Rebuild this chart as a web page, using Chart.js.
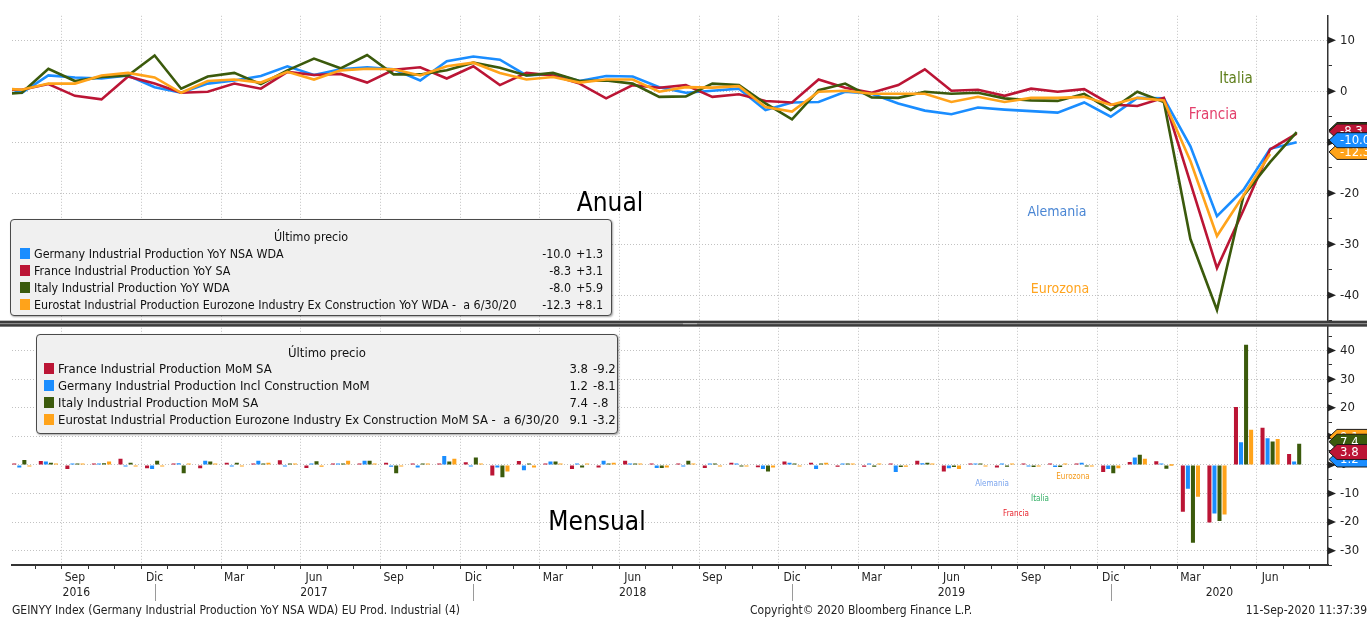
<!DOCTYPE html>
<html>
<head>
<meta charset="utf-8">
<script src="https://cdn.jsdelivr.net/npm/chart.js@4.4.0/dist/chart.umd.min.js"></script>
<style>
  body { margin: 0; background: #fff; }
  #wrap { position: relative; width: 1367px; height: 620px; overflow: hidden;
          font-family: 'DejaVu Sans Condensed', 'Liberation Sans Narrow', sans-serif; color: #111; }
  canvas { position: absolute; left: 0; top: 0; }
  .box { position: absolute; background: #f0f0f0; border: 1px solid #4a4a4a; border-radius: 4px;
         box-shadow: 1px 1px 2px rgba(0,0,0,.35); font-size: 13px; }
  .box div { position: absolute; white-space: nowrap; line-height: 17px; height: 17px; }
  .box .sw { height: 11px; width: 10px; top: 3px; }
  .lbl { position: absolute; white-space: nowrap; transform: translate(-50%, -50%); }
  .foot { position: absolute; top: 603px; font-size: 12px; white-space: nowrap; color: #222; }
</style>
</head>
<body>
<div id="wrap">
  <canvas id="c" width="1367" height="620"></canvas>
</div>
<script>
// months shown (Jun 2016 .. Jul 2020)
const months = [
  '2016-06','2016-07','2016-08','2016-09','2016-10','2016-11','2016-12',
  '2017-01','2017-02','2017-03','2017-04','2017-05','2017-06','2017-07','2017-08','2017-09','2017-10','2017-11','2017-12',
  '2018-01','2018-02','2018-03','2018-04','2018-05','2018-06','2018-07','2018-08','2018-09','2018-10','2018-11','2018-12',
  '2019-01','2019-02','2019-03','2019-04','2019-05','2019-06','2019-07','2019-08','2019-09','2019-10','2019-11','2019-12',
  '2020-01','2020-02','2020-03','2020-04','2020-05','2020-06','2020-07'
];
const quarterNames = { '03': 'Mar', '06': 'Jun', '09': 'Sep', '12': 'Dic' };
const years = ['2016', '2017', '2018', '2019', '2020'];

// YoY (top panel)
const yoyGermany = [1.5, -0.3, 3.1, 2.7, 2.5, 3.1, 0.8, -0.3, 1.5, 2.1, 3.0, 4.9, 3.2, 4.3, 4.7, 4.3, 2.1, 5.9, 6.8, 6.2, 3.1, 3.4, 2.0, 3.0, 2.9, 0.8, -0.3, 0.1, 0.5, -3.7, -2.2, -2.1, -0.1, -0.5, -2.4, -3.8, -4.5, -3.2, -3.6, -3.9, -4.2, -2.2, -5.0, -1.3, -1.4, -10.8, -24.5, -19.3, -11.3, -10.0];
const yoyFrance = [0.3, 0.3, 1.4, -0.9, -1.6, 2.9, 1.5, -0.3, -0.1, 1.5, 0.5, 3.8, 3.2, 3.4, 1.7, 4.2, 4.7, 2.5, 4.9, 1.2, 3.6, 3.1, 1.5, -1.4, 1.2, 0.7, 1.2, -1.1, -0.6, -1.9, -2.2, 2.3, 0.7, -0.3, 1.2, 4.3, 0.1, 0.3, -0.9, 0.5, -0.1, 0.4, -2.6, -2.9, -1.3, -18.0, -34.7, -23.3, -11.4, -8.3];
const yoyItaly = [-0.6, -0.3, 4.4, 2.0, 2.8, 3.1, 7.0, 0.5, 2.9, 3.6, 1.4, 4.1, 6.4, 4.5, 7.1, 3.3, 3.3, 4.1, 5.6, 4.6, 3.1, 3.6, 2.0, 2.1, 1.5, -1.1, -1.0, 1.5, 1.2, -2.4, -5.5, 0.2, 1.5, -1.2, -1.3, -0.1, -0.5, -0.3, -1.4, -1.8, -1.9, -0.5, -3.7, -0.1, -2.1, -29.0, -42.9, -20.5, -13.9, -8.0];
const yoyEurozone = [0.6, 0.3, 1.5, 1.5, 3.1, 3.6, 2.7, -0.3, 2.0, 2.3, 1.7, 3.8, 2.3, 4.1, 4.4, 4.3, 3.1, 4.9, 5.6, 3.6, 2.3, 2.8, 1.7, 2.3, 2.3, -0.1, 0.8, 0.7, 1.0, -3.1, -4.0, -0.1, 0.1, -0.5, -0.5, -0.5, -2.1, -1.1, -2.1, -1.3, -1.3, -1.1, -2.7, -1.3, -1.8, -13.7, -28.4, -20.4, -12.3, null];

// MoM (bottom panel)
const momFrance = [null, 0.3, 1.4, -1.4, 0.2, 2.2, -1.2, 0.3, -1.2, 0.8, 0.2, 1.6, -1.1, 0.5, 0.2, 0.8, 0.4, 0.2, 0.9, -3.7, 1.4, 0.2, -1.4, -0.9, 1.5, 0.2, 0.5, -1.1, 0.8, -0.8, 1.2, 0.8, -0.6, -0.6, 0.4, 1.5, -2.3, 0.2, -0.9, 0.5, 0.1, 0.3, -2.5, 1.0, 1.3, -16.4, -20.1, 20.3, 13.0, 3.8];
const momGermany = [null, -0.9, 1.2, 0.2, 0.3, -0.3, -1.4, 0.6, 1.5, -0.3, 1.5, -0.2, 0.3, 0.5, 1.5, -0.6, -0.9, 3.1, -0.2, -0.9, -1.9, 1.2, 0.2, 1.5, 0.3, -1.1, -0.2, 0.3, 0.2, -1.4, 0.8, -1.4, 0.5, 0.5, -2.5, 0.6, -1.2, 0.2, 0.3, -0.2, -0.7, 0.8, -1.4, 2.6, 0.4, -8.3, -17.0, 7.9, 9.3, 1.2];
const momItaly = [null, 1.7, 0.8, 0.2, 0.6, 0.8, 1.5, -2.9, 1.2, 0.8, 0.5, 0.5, 1.3, 0.5, 1.5, -2.9, 0.4, 1.2, 2.6, -4.3, 0.3, 1.2, -0.9, 0.3, 0.2, -1.1, 1.5, 0.2, -0.2, -2.3, 0.3, 0.4, 0.4, -0.6, -0.7, 0.8, -0.7, 0.2, -0.6, -0.7, -0.7, -0.3, -2.9, 3.6, -1.3, -27.2, -19.6, 42.0, 8.2, 7.4];
const momEurozone = [null, -0.2, 0.2, 0.2, 1.2, -0.2, -0.2, 0.3, 0.5, -0.2, 0.8, 0.2, -0.6, 1.5, 0.5, -0.3, 0.1, 2.2, 0.5, -2.3, -0.9, 0.2, 0.2, 0.8, 0.2, -0.9, 0.5, -0.3, -0.2, -0.9, -0.2, 0.8, 0.2, 0.1, -0.6, 0.3, -1.4, -0.1, 0.1, -0.2, 0.2, -0.2, -1.2, 2.2, 0.0, -11.1, -17.3, 12.3, 9.1, null];

// legend texts
const yoyNames = ['Germany Industrial Production YoY NSA WDA', 'France Industrial Production YoY SA',
  'Italy Industrial Production YoY WDA', 'Eurostat Industrial Production Eurozone Industry Ex Construction YoY WDA -&nbsp; a 6/30/20'];
const yoyLast = ['-10.0', '-8.3', '-8.0', '-12.3'];
const yoyChg = ['+1.3', '+3.1', '+5.9', '+8.1'];
const momNames = ['France Industrial Production MoM SA', 'Germany Industrial Production Incl Construction MoM',
  'Italy Industrial Production MoM SA', 'Eurostat Industrial Production Eurozone Industry Ex Construction MoM SA -&nbsp; a 6/30/20'];
const momLast = ['3.8', '1.2', '7.4', '9.1'];
const momChg = ['-9.2', '-8.1', '-.8', '-3.2'];

const BLUE = '#1a8dff', RED = '#bb1535', GREEN = '#3b5a0c', ORANGE = '#ffa31a';
const FONT = "'DejaVu Sans Condensed', 'Liberation Sans Narrow', sans-serif";
const GRID = '#c2c2c2';

const pts = arr => arr.map((v, i) => ({ x: i, y: v }));

function line(label, arr, color, order) {
  return { type: 'line', label, data: pts(arr), yAxisID: 'y', borderColor: color, borderWidth: 2.6,
           pointRadius: 0, tension: 0, order, spanGaps: false };
}
function bar(label, arr, color) {
  return { type: 'bar', label, data: pts(arr), yAxisID: 'y2', backgroundColor: color,
           categoryPercentage: 0.76, barPercentage: 0.8, minBarLength: 1.5, order: 0 };
}

function lastVal(arr) {
  for (let i = arr.length - 1; i >= 0; i--) if (arr[i] !== null) return arr[i];
}

const decor = {
  id: 'decor',
  afterDraw(chart) {
    const ctx = chart.ctx, area = chart.chartArea;
    const xs = chart.scales.x, yTop = chart.scales.y, yBot = chart.scales.y2;
    ctx.save();
    // arrow marks on major ticks
    ctx.fillStyle = '#222';
    [yTop, yBot].forEach(s => {
      s.ticks.forEach(t => {
        if (t.value % 10 !== 0) return;
        const py = s.getPixelForValue(t.value);
        ctx.beginPath();
        ctx.moveTo(area.right, py - 3.5); ctx.lineTo(area.right + 8, py); ctx.lineTo(area.right, py + 3.5);
        ctx.closePath(); ctx.fill();
      });
    });
    // panel separator
    const sy = yTop.bottom;
    ctx.fillStyle = '#3c3c3c'; ctx.fillRect(0, sy - 3, chart.width, 6);
    ctx.fillStyle = '#9a9a9a'; ctx.fillRect(0, sy - 0.5, chart.width, 1);
    ctx.fillStyle = '#bbb'; ctx.fillRect(683, sy - 0.5, 14, 1);

    // year dividers and year labels
    const decs = [];
    months.forEach((m, i) => { if (m.slice(5) === '12') decs.push(xs.getPixelForValue(i)); });
    ctx.strokeStyle = '#9a9a9a'; ctx.lineWidth = 1;
    decs.forEach(px => {
      ctx.beginPath(); ctx.moveTo(Math.round(px) + 0.5, area.bottom + 19); ctx.lineTo(Math.round(px) + 0.5, area.bottom + 36); ctx.stroke();
    });
    ctx.fillStyle = '#222'; ctx.font = '12px ' + FONT; ctx.textAlign = 'center'; ctx.textBaseline = 'middle';
    const bounds = [area.left - 14].concat(decs, [area.right]);
    years.forEach((yr, k) => {
      const a = Math.max(bounds[k], area.left - 14), b = Math.min(bounds[k + 1], area.right);
      ctx.fillText(yr, (a + b) / 2, area.bottom + 28);
    });

    // last value tags
    function tag(scale, v, color) {
      const py = scale.getPixelForValue(v) - 2;
      const x0 = area.right + 1, h = 7.5;
      ctx.beginPath();
      ctx.moveTo(x0, py); ctx.lineTo(x0 + 8, py - h); ctx.lineTo(chart.width + 5, py - h);
      ctx.lineTo(chart.width + 5, py + h); ctx.lineTo(x0 + 8, py + h); ctx.closePath();
      ctx.fillStyle = color; ctx.fill();
      ctx.strokeStyle = '#1a1a1a'; ctx.lineWidth = 1; ctx.stroke();
      ctx.fillStyle = '#fff'; ctx.font = '13px ' + FONT; ctx.textAlign = 'left'; ctx.textBaseline = 'middle';
      ctx.fillText(v.toFixed(1), x0 + 11, py + 0.5);
    }
    tag(yTop, lastVal(yoyItaly), GREEN);
    tag(yTop, lastVal(yoyFrance), RED);
    tag(yTop, lastVal(yoyEurozone), ORANGE);
    tag(yTop, lastVal(yoyGermany), BLUE);
    tag(yBot, lastVal(momEurozone), ORANGE);
    tag(yBot, lastVal(momItaly), GREEN);
    tag(yBot, lastVal(momGermany), BLUE);
    tag(yBot, lastVal(momFrance), RED);
    ctx.restore();
  }
};

function everyFive(scale) {
  const out = [];
  for (let v = Math.ceil(scale.min / 5) * 5; v <= scale.max; v += 5) out.push({ value: v });
  scale.ticks = out;
}

const yAxis = (min, max, weight) => ({
  type: 'linear', position: 'right', stack: 'panels', stackWeight: weight, min, max,
  afterBuildTicks: everyFive,
  afterFit: s => { s.width = 39; },
  grid: { color: c => (c.tick && c.tick.value % 10 === 0) ? GRID : 'rgba(0,0,0,0)', tickColor: '#333', tickLength: 4 },
  border: { color: '#333', width: 1.5, dash: [1, 2] },
  ticks: { autoSkip: false, padding: 8, color: '#222', font: { family: FONT, size: 13 },
           callback: v => v % 10 === 0 ? String(v) : '' }
});

new Chart(document.getElementById('c'), {
  data: {
    datasets: [
      line('Germany YoY', yoyGermany, BLUE, 4),
      line('France YoY', yoyFrance, RED, 3),
      line('Italy YoY', yoyItaly, GREEN, 2),
      line('Eurozone YoY', yoyEurozone, ORANGE, 1),
      bar('France MoM', momFrance, RED),
      bar('Germany MoM', momGermany, BLUE),
      bar('Italy MoM', momItaly, GREEN),
      bar('Eurozone MoM', momEurozone, ORANGE)
    ]
  },
  options: {
    responsive: false, animation: false, devicePixelRatio: 1,
    layout: { padding: { left: 12, top: 12, right: 0, bottom: 0 } },
    plugins: { legend: { display: false }, tooltip: { enabled: false } },
    scales: {
      x: {
        type: 'linear', min: 0.63, max: 50.18, offset: false,
        afterBuildTicks: s => { s.ticks = months.map((m, i) => ({ value: i })).filter(t => t.value >= s.min && t.value <= s.max); },
        afterFit: s => { s.height = 55; },
        grid: { color: c => (c.tick && quarterNames[(months[c.tick.value] || '').slice(5)]) ? GRID : 'rgba(0,0,0,0)',
                tickColor: '#333', tickLength: 4 },
        border: { color: '#333', width: 2, dash: [1, 2] },
        ticks: { autoSkip: false, maxRotation: 0, padding: 2, color: '#222', font: { family: FONT, size: 12 },
                 callback: v => quarterNames[(months[v] || '').slice(5)] || '' }
      },
      y: yAxis(-45.6, 14.8, 310),
      y2: yAxis(-35.0, 49.4, 243)
    }
  },
  plugins: [decor]
});

// legends, annotations and footer as page text
const wrap = document.getElementById('wrap');
function legendBox(left, top, width, height, fontSize, titleTop, rowTop, swLeft, textLeft, valRight, chgLeft, names, last, chg, colors) {
  let html = `<div style="left:0;right:0;text-align:center;top:${titleTop}px">Último precio</div>`;
  names.forEach((n, k) => {
    const t = rowTop + k * 17;
    html += `<div class="sw" style="left:${swLeft}px;top:${t + 3}px;background:${colors[k]}"></div>`;
    html += `<div style="left:${textLeft}px;top:${t}px">${n}</div>`;
    html += `<div style="left:${valRight - 60}px;width:60px;text-align:right;top:${t}px">${last[k]}</div>`;
    html += `<div style="left:${chgLeft}px;top:${t}px">${chg[k]}</div>`;
  });
  const d = document.createElement('div');
  d.className = 'box';
  d.style.cssText = `left:${left}px;top:${top}px;width:${width}px;height:${height}px;font-size:${fontSize}px`;
  d.innerHTML = html;
  wrap.appendChild(d);
}
legendBox(10, 219, 600, 95, 12.4, 8, 25, 9, 23, 560, 565, yoyNames, yoyLast, yoyChg, [BLUE, RED, GREEN, ORANGE]);
legendBox(36, 334, 580, 98, 13, 9, 25, 7, 21, 551, 556, momNames, momLast, momChg, [RED, BLUE, GREEN, ORANGE]);

const notes = [
  ['Anual', 610, 202, 26, '#000'], ['Mensual', 597, 521, 26, '#000'],
  ['Italia', 1236, 78, 15, '#5f7f1c'], ['Francia', 1213, 114, 15, '#e3406c'],
  ['Alemania', 1057, 211, 14, '#4a86d4'], ['Eurozona', 1060, 288, 14, '#ffa41f'],
  ['Eurozona', 1073, 476, 8, '#f59a1a'], ['Alemania', 992, 483, 8, '#7aa4ee'],
  ['Italia', 1040, 498, 8, '#2fae62'], ['Francia', 1016, 513, 8, '#e8202a']
];
notes.forEach(([t, x, y, size, color]) => {
  const d = document.createElement('div');
  d.className = 'lbl';
  d.style.cssText = `left:${x}px;top:${y}px;font-size:${size}px;color:${color}`;
  d.textContent = t;
  wrap.appendChild(d);
});

const foot = [
  ['GEINYY Index (Germany Industrial Production YoY NSA WDA) EU Prod. Industrial (4)', 'left:12px'],
  ['Copyright© 2020 Bloomberg Finance L.P.', 'left:750px'],
  ['11-Sep-2020 11:37:39', 'right:0px']
];
foot.forEach(([t, pos]) => {
  const d = document.createElement('div');
  d.className = 'foot';
  d.style.cssText = pos;
  d.textContent = t;
  wrap.appendChild(d);
});
</script>
</body>
</html>
